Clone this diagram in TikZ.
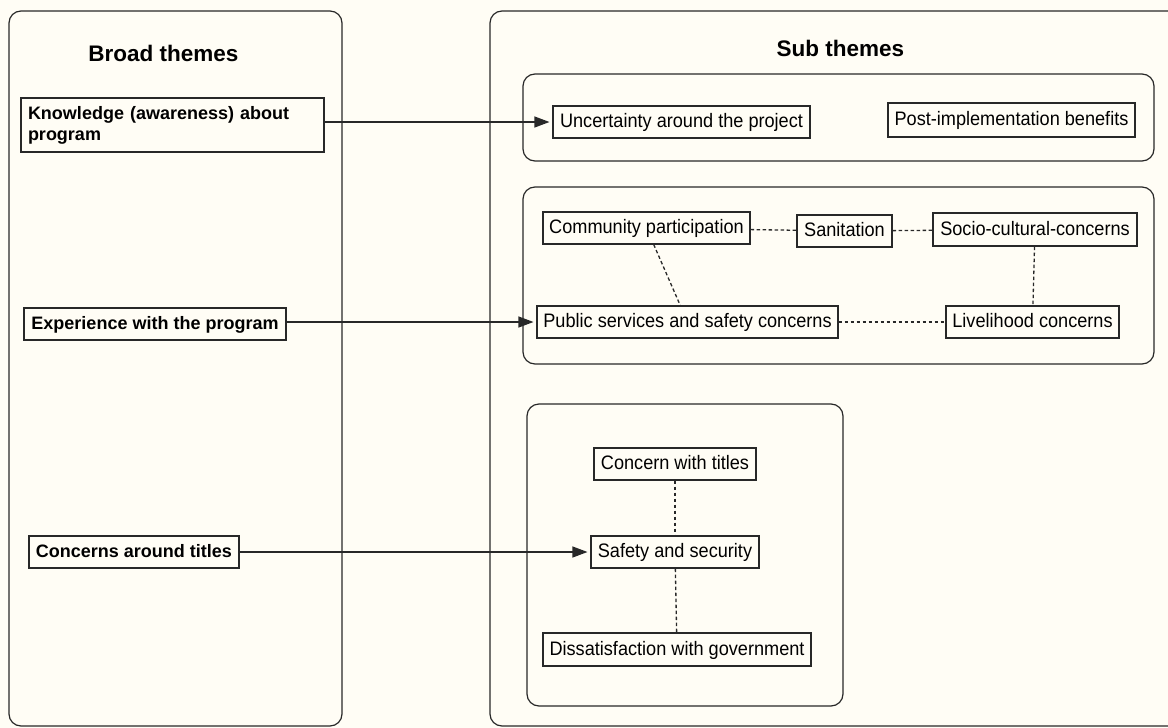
\documentclass[tikz,border=0pt]{standalone}
\usepackage{fontspec}
\setmainfont{Liberation Sans}
\newfontfamily\narrowsans{Liberation Sans}[FakeStretch=0.93]
\usetikzlibrary{arrows.meta}
\definecolor{paper}{RGB}{255,253,245}
\definecolor{inkgray}{RGB}{40,40,40}

\begin{document}
\begin{tikzpicture}[x=1pt,y=1pt,yscale=-1,xscale=1,
    themebox/.style={draw=inkgray,line width=1.2pt,rounded corners=12},
    titlenode/.style={inner sep=0pt,font=\fontsize{22.5}{26}\selectfont\bfseries},
    broadnode/.style={draw=inkgray,line width=1.1pt,inner xsep=7pt,inner ysep=0pt,font=\fontsize{18}{21}\selectfont\bfseries,text height=15pt,text depth=4pt},
    subnode/.style={draw=inkgray,line width=1.1pt,inner sep=0pt,font=\narrowsans\fontsize{19.5}{22}\selectfont,text height=15pt,text depth=4pt},
    linkarrow/.style={draw=inkgray,line width=1.1pt,-{Triangle[length=15pt,width=11pt]},shorten >=3pt},
    linkdash/.style={draw=inkgray,line width=1.3pt,dash pattern=on 3.5pt off 2.5pt}]
                      \useasboundingbox (0,0) rectangle (1168,728);
                      \fill[paper] (0,0) rectangle (1168,728);
                      \clip (0,0) rectangle (1168,728);
                      %Shape: Rectangle [broad]
                      \draw [themebox] (9,11) rectangle (342,726);
                      %Shape: Rectangle [sub]
                      \draw [themebox] (490,11) rectangle (1190,726);
                      %Shape: Rectangle [sub group 1]
                      \draw [themebox] (523,74) rectangle (1154,161);
                      %Shape: Rectangle [sub group 2]
                      \draw [themebox] (523,187) rectangle (1154,364);
                      %Shape: Rectangle [sub group 3]
                      \draw [themebox] (527,404) rectangle (843,706);
                      % Text Node
                      \draw (163.5,53.5) node (broadtitle) [titlenode] {Broad themes};
                      % Text Node
                      \draw (840.5,48.5) node (subtitle) [titlenode] {Sub themes};
                      % Text Node
                      \draw (172.5,125) node (know) [broadnode,text width=289pt,align=left,minimum height=54,text height=,text depth=] {Knowledge (awareness) about\\program};
                      % Text Node
                      \draw (155,324) node (exper) [broadnode,minimum width=262,minimum height=32] {Experience with the program};
                      % Text Node
                      \draw (134,552) node (conc) [broadnode,minimum width=210,minimum height=32] {Concerns around titles};
                      % Text Node
                      \draw (681.5,122) node (unc) [subnode,minimum width=257,minimum height=32] {Uncertainty around the project};
                      % Text Node
                      \draw (1011.5,120) node (post) [subnode,minimum width=247,minimum height=34] {Post-implementation benefits};
                      % Text Node
                      \draw (646.5,228) node (comm) [subnode,minimum width=207,minimum height=32] {Community participation};
                      % Text Node
                      \draw (844.5,231) node (san) [subnode,minimum width=95,minimum height=32] {Sanitation};
                      % Text Node
                      \draw (1035,229.5) node (socio) [subnode,minimum width=204,minimum height=33] {Socio-cultural-concerns};
                      % Text Node
                      \draw (687.5,322) node (pub) [subnode,minimum width=301,minimum height=32] {Public services and safety concerns};
                      % Text Node
                      \draw (1032.5,322) node (live) [subnode,minimum width=173,minimum height=32] {Livelihood concerns};
                      % Text Node
                      \draw (675,464) node (cwt) [subnode,minimum width=162,minimum height=32] {Concern with titles};
                      % Text Node
                      \draw (675,552) node (safe) [subnode,minimum width=168,minimum height=32] {Safety and security};
                      % Text Node
                      \draw (677,649.5) node (diss) [subnode,minimum width=268,minimum height=33] {Dissatisfaction with government};
                      %Straight Lines [broad to sub]
                      \draw [linkarrow] (know.east |- unc) -- (unc);
                      \draw [linkarrow] (exper.east |- pub) -- (pub);
                      \draw [linkarrow] (conc) -- (safe);
                      %Straight Lines [dashed links]
                      \draw [linkdash] (comm) -- (san);
                      \draw [linkdash] (san) -- (socio);
                      \draw [linkdash] (socio) -- (live);
                      \draw [linkdash] (comm) -- (pub);
                      \draw [linkdash] (pub) -- (live);
                      \draw [linkdash] (cwt) -- (safe);
                      \draw [linkdash] (safe) -- (diss);
                  \end{tikzpicture}
\end{document}
